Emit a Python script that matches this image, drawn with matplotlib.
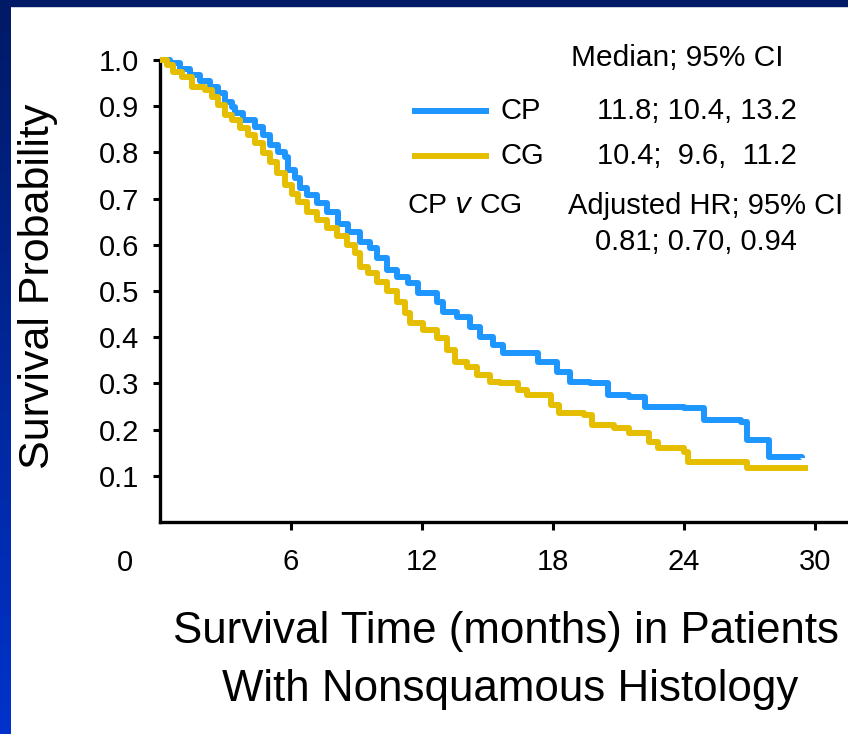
import numpy as np
import matplotlib
matplotlib.use("Agg")
import matplotlib.pyplot as plt
from matplotlib import font_manager
from matplotlib.lines import Line2D
from matplotlib.patches import Rectangle

# narrow sans if we have it, plain Liberation Sans otherwise
names = {f.name for f in font_manager.fontManager.ttflist}
FONT = "Liberation Sans Narrow" if "Liberation Sans Narrow" in names else "Liberation Sans"
plt.rcParams["font.family"] = [FONT, "DejaVu Sans"]

# Kaplan-Meier curves (months, survival probability)
cp_time = [0, 0.46, 0.92, 1.37, 1.83, 2.29, 2.67, 2.98, 3.28, 3.44, 3.82, 4.35, 4.73,
           5.04, 5.42, 5.73, 5.88, 6.18, 6.41, 6.72, 7.18, 7.63, 8.17, 8.63, 9.16,
           9.62, 9.92, 10.38, 10.84, 11.37, 11.83, 12.67, 12.98, 13.59, 14.2, 14.66,
           15.27, 15.7, 17.3, 18.2, 18.8, 19.7, 20.5, 21.5, 22.2, 24.0, 24.9, 26.6,
           26.9, 27.9, 29.4]
cp_surv = [1.0, 0.993, 0.98, 0.968, 0.955, 0.942, 0.928, 0.91, 0.899, 0.885, 0.87,
           0.856, 0.838, 0.816, 0.80, 0.79, 0.762, 0.744, 0.722, 0.708, 0.69, 0.672,
           0.646, 0.628, 0.607, 0.592, 0.571, 0.545, 0.531, 0.517, 0.495, 0.477,
           0.455, 0.444, 0.423, 0.40, 0.383, 0.365, 0.346, 0.325, 0.303, 0.30,
           0.275, 0.271, 0.249, 0.247, 0.22, 0.217, 0.178, 0.141, 0.139]

cg_time = [0, 0.31, 0.61, 0.99, 1.45, 2.06, 2.37, 2.67, 2.98, 3.28, 3.66, 4.05, 4.35,
           4.73, 5.04, 5.34, 5.73, 6.03, 6.34, 6.72, 7.18, 7.63, 8.09, 8.55, 8.93,
           9.16, 9.54, 9.92, 10.38, 10.84, 11.22, 11.45, 12.06, 12.67, 13.13, 13.51,
           14.05, 14.5, 15.11, 15.57, 16.4, 16.8, 17.9, 18.3, 19.4, 19.8, 20.8, 21.5,
           22.4, 22.8, 24.0, 24.2, 26.9, 29.7]
cg_surv = [1.0, 0.989, 0.975, 0.964, 0.942, 0.935, 0.92, 0.903, 0.881, 0.87, 0.852,
           0.838, 0.82, 0.798, 0.78, 0.755, 0.729, 0.711, 0.693, 0.672, 0.654, 0.636,
           0.618, 0.60, 0.582, 0.553, 0.538, 0.52, 0.499, 0.477, 0.452, 0.43, 0.416,
           0.398, 0.372, 0.347, 0.336, 0.318, 0.304, 0.30, 0.286, 0.275, 0.253,
           0.236, 0.232, 0.21, 0.203, 0.192, 0.173, 0.16, 0.151, 0.13, 0.117, 0.117]

x_ticks = [6, 12, 18, 24, 30]
y_ticks = [0.1, 0.2, 0.3, 0.4, 0.5, 0.6, 0.7, 0.8, 0.9, 1.0]

arms = ["CP", "CG"]
medians = ["11.8; 10.4, 13.2", "10.4;  9.6,  11.2"]
hr_text = "0.81; 0.70, 0.94"

BLUE = "#1e96ff"
GOLD = "#e6be00"

W, H = 848, 734
fig = plt.figure(figsize=(W / 100, H / 100), dpi=100)
fig.patch.set_facecolor("white")


def fx(px):
    return px / W


def fy(py):
    return 1 - py / H


# slide frame: dark band on top, blue gradient down the left edge
grad = fig.add_axes([0, 0, fx(11), 1])
grad.imshow(np.linspace(0, 1, 256).reshape(-1, 1), aspect="auto",
            cmap=matplotlib.colors.LinearSegmentedColormap.from_list(
                "edge", ["#001a66", "#0033cc"]))
grad.set_axis_off()
fig.patches.append(Rectangle((0, fy(6)), 1, 6 / H, transform=fig.transFigure,
                             color="#001a66", zorder=5))

ax = fig.add_axes([fx(160), fy(522), 1 - fx(160), fy(60) - fy(522)])
ax.set_xlim(0, (W - 160) / 21.83)
ax.set_ylim(0, 1.0)

ax.plot(cp_time, cp_surv, drawstyle="steps-post", color=BLUE, lw=4.3,
        solid_capstyle="butt", clip_on=False, zorder=3)
ax.plot(cg_time, cg_surv, drawstyle="steps-post", color=GOLD, lw=4.3,
        solid_capstyle="butt", clip_on=False, zorder=3)

for s in ["top", "right"]:
    ax.spines[s].set_visible(False)
for s in ["left", "bottom"]:
    ax.spines[s].set_linewidth(2.4)

ax.set_xticks(x_ticks)
ax.set_xticklabels([str(t) for t in x_ticks])
ax.set_yticks(y_ticks)
ax.set_yticklabels([f"{v:.1f}" for v in y_ticks])
ax.tick_params(axis="x", length=6, width=2.2, pad=13, labelsize=21)
ax.tick_params(axis="y", length=5, width=2.2, pad=10, labelsize=21)
fig.text(fx(125), fy(563), "0", fontsize=21, ha="center", va="center")

fig.text(fx(38), fy(286), "Survival Probability", rotation=90, fontsize=31,
         ha="center", va="center")
fig.text(fx(506), fy(632), "Survival Time (months) in Patients", fontsize=31.6,
         ha="center", va="center")
fig.text(fx(510), fy(690), "With Nonsquamous Histology", fontsize=31.6,
         ha="center", va="center")

# legend block with medians and hazard ratio
fig.text(fx(677), fy(58), "Median; 95% CI", fontsize=21.5, ha="center", va="center")
for i, (arm, col, med) in enumerate(zip(arms, [BLUE, GOLD], medians)):
    yy = fy(111 + 45 * i)
    fig.lines.append(Line2D([fx(412), fx(489)], [yy, yy], transform=fig.transFigure,
                            color=col, lw=4.3, solid_capstyle="butt"))
    fig.text(fx(500), yy, arm, fontsize=21, ha="left", va="center")
    fig.text(fx(797), yy, med, fontsize=21, ha="right", va="center")
fig.text(fx(407), fy(206), "CP $\\mathit{v}$ CG", fontsize=20.5, ha="left", va="center")
fig.text(fx(843), fy(206), "Adjusted HR; 95% CI", fontsize=21, ha="right", va="center")
fig.text(fx(797), fy(242), hr_text, fontsize=21, ha="right", va="center")

fig.savefig("out.png", dpi=100)
